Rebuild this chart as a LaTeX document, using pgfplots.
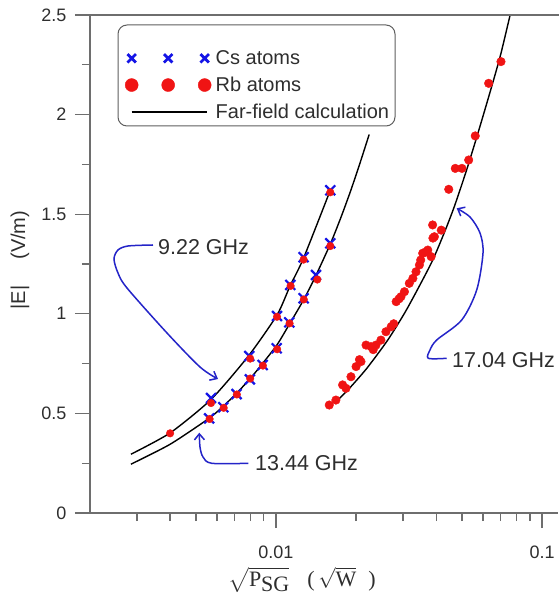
\documentclass[border=0pt]{standalone}
\usepackage{pgfplots}
\usepackage{pgfplotstable}
\pgfplotsset{compat=1.18}
\usepackage{fontspec}
\usepackage{amsmath}
\setmainfont{Liberation Sans}
\newfontfamily\serifface{Liberation Serif}
\usetikzlibrary{arrows.meta}

\definecolor{axisgray}{HTML}{6E6E6E}
\definecolor{labelgray}{HTML}{2E2E2E}
\definecolor{csblue}{HTML}{1414E6}
\definecolor{rbred}{HTML}{F01414}
\definecolor{arrowblue}{HTML}{2424C8}

% Cs measurements, 9.22 GHz branch
\pgfplotstableread{
x y
0.00570 0.577
0.00794 0.788
0.01009 0.989
0.01132 1.145
0.01270 1.284
0.01600 1.620
}\csupper

% Cs measurements, 13.44 GHz branch
\pgfplotstableread{
x y
0.00561 0.475
0.00634 0.531
0.00711 0.597
0.00798 0.671
0.00891 0.743
0.01006 0.827
0.01122 0.957
0.01270 1.078
0.01414 1.195
0.01600 1.354
}\cslower

% red markers on the Cs points
\pgfplotstableread{
x y
0.00400 0.400
0.00570 0.552
0.00800 0.775
0.01009 0.985
0.01135 1.140
0.01270 1.272
0.01600 1.610
0.00563 0.472
0.00636 0.528
0.00713 0.595
0.00800 0.675
0.00893 0.740
0.01010 0.822
0.01125 0.952
0.01272 1.072
0.01430 1.172
0.01600 1.340
}\csdots

% Rb measurements, 17.04 GHz
\pgfplotstableread{
x y
0.01586 0.542
0.01680 0.567
0.01780 0.643
0.01833 0.626
0.01914 0.684
0.02000 0.735
0.02060 0.770
0.02087 0.760
0.02180 0.843
0.02276 0.835
0.02320 0.820
0.02376 0.843
0.02480 0.868
0.02590 0.910
0.02710 0.935
0.02770 0.950
0.02830 1.061
0.02900 1.075
0.02950 1.086
0.03040 1.111
0.03170 1.153
0.03270 1.178
0.03360 1.211
0.03460 1.245
0.03500 1.270
0.03560 1.304
0.03650 1.310
0.03720 1.320
0.03830 1.287
0.03890 1.380
0.03940 1.387
0.03880 1.446
0.04180 1.420
0.04460 1.625
0.04720 1.730
0.05000 1.730
0.05300 1.772
0.05610 1.893
0.06300 2.157
0.07010 2.266
}\rbdata

% far-field calculations
\pgfplotstableread{
x y
0.00285 0.295
0.00400 0.402
0.00570 0.570
0.00790 0.790
0.01010 0.995
0.01130 1.140
0.01270 1.280
0.01600 1.620
}\calcA

\pgfplotstableread{
x y
0.00285 0.245
0.00400 0.345
0.00560 0.475
0.00630 0.533
0.00710 0.600
0.00800 0.675
0.00890 0.750
0.01010 0.845
0.01120 0.945
0.01270 1.070
0.01410 1.190
0.01600 1.350
0.01750 1.480
0.01900 1.610
0.02050 1.740
0.02240 1.900
}\calcB

\pgfplotstableread{
x y
0.01660 0.550
0.01900 0.630
0.02200 0.728
0.02630 0.868
0.03100 1.022
0.03830 1.253
0.04300 1.410
0.04680 1.538
0.05200 1.720
0.05740 1.906
0.06400 2.120
0.07010 2.308
0.07900 2.600
}\calcC

\pgfplotsset{
  triple marks legend/.style={legend image code/.code={
    \draw[##1] plot coordinates {(0pt,0pt) (36.5pt,0pt) (73pt,0pt)};}},
  long line legend/.style={legend image code/.code={
    \draw[##1] (0pt,0pt) -- (75pt,0pt);}},
}

\begin{document}
\begin{tikzpicture}
\begin{axis}[
  name=ax,
  at={(0,0)}, anchor=south west,
  scale only axis, width=468pt, height=498pt,
  xmode=log, xmin=0.002, xmax=0.1148,
  ymin=0, ymax=2.5,
  axis x line*=bottom, axis y line*=left,
  axis line style={axisgray, line width=1.3pt, -},
  tick style={axisgray, line width=1.3pt},
  tick align=outside,
  major tick length=15pt, minor tick length=8pt,
  xtick={0.01,0.1}, xticklabels={0.01,0.1},
  minor xtick={0.003,0.004,0.005,0.006,0.007,0.008,0.009,0.02,0.03,0.04,0.05,0.06,0.07,0.08,0.09},
  ytick={0,0.5,1,1.5,2,2.5}, yticklabels={0,0.5,1,1.5,2,2.5},
  minor ytick={0.25,0.75,1.25,1.75,2.25},
  /pgf/number format/assume math mode=true,
  ticklabel style={font=\fontsize{18}{20}\selectfont, text=labelgray},
  xticklabel style={yshift=-14pt},
  yticklabel style={xshift=-5pt},
  ylabel={|E|\hspace{26pt}(V/m)},
  ylabel style={at={(axis description cs:-0.1496,0.508)}, anchor=center,
    font=\fontsize{20}{22}\selectfont, text=labelgray},
  xlabel={\serifface\fontsize{22}{24}\selectfont $\sqrt{\text{P\raisebox{-5pt}{SG}}}$\hspace{18pt}(\,$\sqrt{\text{W}}$\hspace{12pt})},
  xlabel style={at={(axis description cs:0.453,-0.1345)}, anchor=center, text=labelgray},
  legend style={
    at={(axis description cs:0.0598,0.940)}, anchor=north west,
    draw=none, fill=none,
    font=\fontsize{20}{22}\selectfont, text=labelgray,
    inner xsep=7pt, inner ysep=4pt, row sep=8pt, column sep=3pt,
    nodes={inner sep=1.5pt},
  },
  legend cell align=left,
]
% legend entries
\addlegendimage{only marks, mark=x, csblue, mark size=6pt, mark options={line width=2.8pt}, triple marks legend}
\addlegendentry{Cs atoms}
\addlegendimage{only marks, mark=*, rbred, mark size=6.5pt, mark options={draw=rbred, fill=rbred}, triple marks legend}
\addlegendentry{Rb atoms}
\addlegendimage{black, line width=1.4pt, long line legend}
\addlegendentry{Far-field calculation}

% calculated curves
\addplot[black, line width=1.4pt, smooth, tension=0.4, forget plot] table[x=x, y=y] {\calcA};
\addplot[black, line width=1.4pt, smooth, tension=0.4, forget plot] table[x=x, y=y] {\calcB};
\addplot[black, line width=1.4pt, smooth, tension=0.4, forget plot] table[x=x, y=y] {\calcC};

% Cs data
\addplot[only marks, mark=x, mark size=7pt, csblue, mark options={line width=2.2pt}, forget plot] table[x=x, y=y] {\csupper};
\addplot[only marks, mark=x, mark size=7pt, csblue, mark options={line width=2.2pt}, forget plot] table[x=x, y=y] {\cslower};
\addplot[only marks, mark=*, mark size=3.8pt, mark options={draw=rbred, fill=rbred}, forget plot] table[x=x, y=y] {\csdots};

% Rb data
\addplot[only marks, mark=*, mark size=4.3pt, mark options={draw=rbred, fill=rbred}, forget plot] table[x=x, y=y] {\rbdata};
\end{axis}

\begin{scope}[x=1pt, y=1pt]
  % top frame line
  \draw[axisgray, line width=1.3pt] (0,498) -- (469,498);
  % legend frame
  \draw[axisgray!85!black, line width=1pt, rounded corners=9pt] (28,488) rectangle (305,387);
  % frequency annotations
  \begin{scope}[arrowblue, line width=1.5pt, -{Straight Barb[length=6pt, width=10pt]}]
    \draw plot[smooth, tension=0.5] coordinates {(63,268) (38,267) (28,263) (24,254) (28,240) (37,225) (77,180) (110,146) (128,134)};
    \draw plot[smooth, tension=0.5] coordinates {(158.3,49.7) (121.7,49.7) (113,56) (110,66) (109.3,80.3)};
    \draw plot[smooth, tension=0.5] coordinates {(356.7,154.7) (338.3,154.7) (340,163) (346.7,173) (371.7,193) (386.7,223) (393,260) (390,280) (380,296) (366.7,304.7)};
  \end{scope}
  \begin{scope}[font=\fontsize{21.5}{24}\selectfont, text=labelgray, inner sep=0pt]
    \node[anchor=west] at (68,266) {9.22 GHz};
    \node[anchor=west] at (165,50) {13.44 GHz};
    \node[anchor=west] at (362,153) {17.04 GHz};
  \end{scope}
\end{scope}

\pgfresetboundingbox
\path[use as bounding box] (-90pt,-84pt) rectangle (469pt,513pt);
\end{tikzpicture}
\end{document}
